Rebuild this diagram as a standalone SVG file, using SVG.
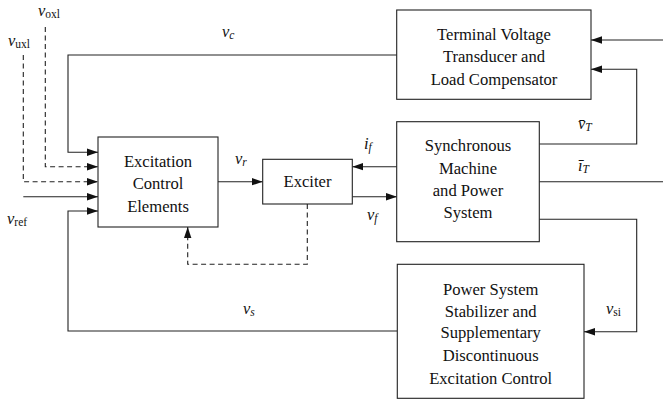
<svg xmlns="http://www.w3.org/2000/svg" width="663" height="403" viewBox="0 0 663 403">
<style>
.box{fill:#fff;stroke:#222;stroke-width:1.1}
.ln{fill:none;stroke:#222;stroke-width:1.1}
.dash{fill:none;stroke:#222;stroke-width:1.1;stroke-dasharray:5,3.5}
.t{font-family:"Liberation Serif","Times New Roman",serif;font-size:16.6px;fill:#111;text-anchor:middle}
.m{font-family:"Liberation Serif","Times New Roman",serif;font-size:16.5px;font-style:italic;fill:#111}
.s{font-style:normal;font-size:11.5px}
.si{font-style:italic;font-size:11.5px}
</style>
<defs>
<marker id="ar" markerUnits="userSpaceOnUse" markerWidth="11" markerHeight="8" refX="11" refY="4" orient="auto">
<path d="M0,0.3 L11,4 L0,7.7 z" fill="#111"/>
</marker>
</defs>
<g id="connectors">
<polyline class="ln" points="397,55 68,55 68,152.3 98,152.3" marker-end="url(#ar)"/>
<polyline class="dash" points="45.3,27 45.3,166.7 98,166.7" marker-end="url(#ar)"/>
<polyline class="dash" points="23.3,55 23.3,181.7 98,181.7" marker-end="url(#ar)"/>
<polyline class="ln" points="23.3,196.7 98,196.7" marker-end="url(#ar)"/>
<polyline class="ln" points="397,331 68,331 68,211 98,211" marker-end="url(#ar)"/>
<polyline class="ln" points="218,181.7 262.7,181.7" marker-end="url(#ar)"/>
<polyline class="ln" points="397,166.7 352.3,166.7" marker-end="url(#ar)"/>
<polyline class="ln" points="352.3,196.7 397,196.7" marker-end="url(#ar)"/>
<polyline class="dash" points="307.3,204 307.3,264.3 187.7,264.3 187.7,227" marker-end="url(#ar)"/>
<polyline class="ln" points="663,40 591,40" marker-end="url(#ar)"/>
<polyline class="ln" points="539.3,144 636.7,144 636.7,69.3 591,69.3" marker-end="url(#ar)"/>
<polyline class="ln" points="539.3,181.7 663,181.7"/>
<polyline class="ln" points="539.3,219.3 636.7,219.3 636.7,331.7 584,331.7" marker-end="url(#ar)"/>
</g>
<g id="ece">
<rect class="box" x="98" y="137" width="120" height="90"/>
<text class="t" x="158" y="166.5">Excitation</text>
<text class="t" x="158" y="188.5">Control</text>
<text class="t" x="158" y="211.5">Elements</text>
</g>
<g id="exciter">
<rect class="box" x="262.7" y="159.3" width="89.6" height="44.7"/>
<text class="t" x="307.5" y="187">Exciter</text>
</g>
<g id="tvt">
<rect class="box" x="396.7" y="10" width="194.3" height="89.3"/>
<text class="t" x="494" y="39.5">Terminal Voltage</text>
<text class="t" x="494" y="61.5">Transducer and</text>
<text class="t" x="494" y="84.5">Load Compensator</text>
</g>
<g id="sm">
<rect class="box" x="396.7" y="121.7" width="142.6" height="120"/>
<text class="t" x="468" y="151">Synchronous</text>
<text class="t" x="468" y="173.5">Machine</text>
<text class="t" x="468" y="195.5">and Power</text>
<text class="t" x="468" y="217.5">System</text>
</g>
<g id="pss">
<rect class="box" x="397.3" y="264.3" width="186.7" height="134"/>
<text class="t" x="490.7" y="294.5">Power System</text>
<text class="t" x="490.7" y="316.5">Stabilizer and</text>
<text class="t" x="490.7" y="338">Supplementary</text>
<text class="t" x="490.7" y="360.5">Discontinuous</text>
<text class="t" x="490.7" y="383.5">Excitation Control</text>
</g>
<g id="labels">
<text class="m" x="38" y="16">v<tspan class="s" dy="2">oxl</tspan></text>
<text class="m" x="8" y="46">v<tspan class="s" dy="2">uxl</tspan></text>
<text class="m" x="222" y="37">v<tspan class="si" dy="2">c</tspan></text>
<text class="m" x="7" y="224">v<tspan class="s" dy="2">ref</tspan></text>
<text class="m" x="235" y="164">v<tspan class="si" dy="2">r</tspan></text>
<text class="m" x="364" y="149">i<tspan class="si" dy="2">f</tspan></text>
<text class="m" x="367" y="220">v<tspan class="si" dy="2">f</tspan></text>
<text class="m" x="578" y="129">v̄<tspan class="si" dy="2">T</tspan></text>
<text class="m" x="578" y="171">ī<tspan class="si" dy="2">T</tspan></text>
<text class="m" x="243" y="314">v<tspan class="si" dy="2">s</tspan></text>
<text class="m" x="606" y="314">v<tspan class="s" dy="2">si</tspan></text>
</g>
</svg>
